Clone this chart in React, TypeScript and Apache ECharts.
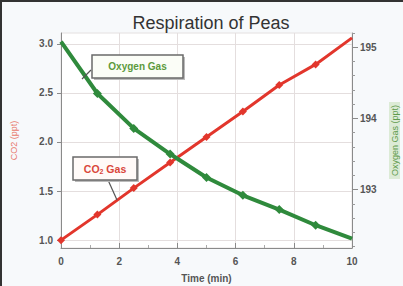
import React, { useEffect, useRef } from "react";
import * as echarts from "echarts";

const times = [0, 1.25, 2.5, 3.75, 5, 6.25, 7.5, 8.75, 10];
const co2 = [1.0, 1.26, 1.53, 1.79, 2.05, 2.31, 2.58, 2.79, 3.06];
const oxygen = [195.08, 194.35, 193.86, 193.5, 193.17, 192.92, 192.72, 192.5, 192.31];
const co2Ticks = [1.0, 1.5, 2.0, 2.5, 3.0];
const oxyTicks = [193, 194, 195];
const oxyMinorTicks = [192.2, 192.4, 192.6, 192.8, 193.2, 193.4, 193.6, 193.8, 194.2, 194.4, 194.6, 194.8, 195.2];

const RED = "#e2362c";
const GREEN = "#2f8a3c";
const FONT = "Liberation Sans, Arial, sans-serif";

export default function App() {
  const ref = useRef<HTMLDivElement>(null);
  useEffect(() => {
    if (!ref.current) return;
    const chart = echarts.init(ref.current, null, { renderer: "svg" });
    const co2Data = times.map((t, i) => ({
      value: [t, co2[i]],
      symbolSize: i === times.length - 1 ? 0 : 8,
    }));
    const oxyData = times.map((t, i) => ({
      value: [t, oxygen[i]],
      symbolSize: i === 0 || i === times.length - 1 ? 0 : 9,
    }));
    const tickLabel = { color: "#555", fontSize: 10, fontWeight: "bold" as const, fontFamily: FONT };
    chart.setOption({
      animation: false,
      backgroundColor: "#f7f9fb",
      title: {
        text: "Respiration of Peas",
        left: 206,
        textAlign: "center",
        top: 9,
        textStyle: { color: "#333", fontSize: 18, fontWeight: "normal", fontFamily: FONT },
      },
      grid: {
        left: 61, right: 51, top: 33, bottom: 38,
        containLabel: false,
        outerBoundsMode: "none",
        show: true, backgroundColor: "#ffffff", borderColor: "#e4e0e0", borderWidth: 1,
      },
      xAxis: {
        type: "value",
        min: 0,
        max: 10,
        interval: 2,
        name: "Time (min)",
        nameLocation: "middle",
        nameGap: 25,
        nameTextStyle: { color: "#555", fontSize: 10, fontWeight: "bold", fontFamily: FONT },
        axisLine: { show: true, lineStyle: { color: "#8a8a8a", width: 1 } },
        axisTick: { show: true, inside: true, length: 5, lineStyle: { color: "#8a8a8a" } },
        minorTick: { show: true, splitNumber: 2, length: 3, lineStyle: { color: "#aaa" } },
        axisLabel: { ...tickLabel, margin: 8 },
        splitLine: { show: true, lineStyle: { color: "#e4dede", width: 1 } },
      },
      yAxis: [
        {
          type: "value",
          position: "left",
          min: 0.92,
          max: 3.11,
          name: "CO2 (ppt)",
          nameLocation: "middle",
          nameGap: 43,
          nameTextStyle: { color: "#e8786c", fontSize: 9, fontFamily: FONT },
          axisLine: { show: true, lineStyle: { color: "#8a8a8a", width: 1 } },
          axisTick: { show: true, length: 4, customValues: co2Ticks, lineStyle: { color: "#8a8a8a" } },
          axisLabel: { ...tickLabel, margin: 8, customValues: co2Ticks, formatter: (v: number) => v.toFixed(1) },
          splitLine: { show: true, lineStyle: { color: "#e4dede", width: 1 } },
        },
        {
          type: "value",
          position: "right",
          min: 192.18,
          max: 195.2,
          name: "Oxygen Gas (ppt)",
          nameLocation: "middle",
          nameGap: 37,
          nameTextStyle: { color: "#5e9a4c", fontSize: 9, fontFamily: FONT, backgroundColor: "#dcebd6", padding: [1, 3] },
          axisLine: { show: true, lineStyle: { color: "#8a8a8a", width: 1 } },
          axisTick: { show: true, length: 6, customValues: oxyTicks, lineStyle: { color: "#8a8a8a" } },
          axisLabel: { ...tickLabel, margin: 8, customValues: oxyTicks },
          splitLine: { show: false },
        },
        {
          type: "value",
          position: "right",
          min: 192.18,
          max: 195.2,
          axisLine: { show: false },
          axisTick: { show: true, length: 3, customValues: oxyMinorTicks, lineStyle: { color: "#9a9a9a" } },
          axisLabel: { show: false },
          splitLine: { show: false },
        },
      ],
      series: [
        {
          name: "Oxygen Gas",
          type: "line",
          yAxisIndex: 1,
          data: oxyData,
          symbol: "diamond",
          lineStyle: { color: GREEN, width: 4 },
          itemStyle: { color: GREEN },
          z: 3,
        },
        {
          name: "CO2 Gas",
          type: "line",
          yAxisIndex: 0,
          data: co2Data,
          symbol: "diamond",
          lineStyle: { color: RED, width: 3 },
          itemStyle: { color: RED },
          z: 2,
        },
      ],
      graphic: [
        { type: "rect", left: 0, top: 0, shape: { width: 403, height: 2 }, style: { fill: "#333" }, z: 100, silent: true },
        { type: "rect", left: 0, top: 0, shape: { width: 2, height: 286 }, style: { fill: "#333" }, z: 100, silent: true },
        { type: "line", shape: { x1: 91, y1: 70, x2: 82, y2: 79 }, style: { stroke: "#555", lineWidth: 1.2 }, z: 50 },
        { type: "rect", shape: { x: 94, y: 57, width: 91, height: 23 }, style: { fill: "#bbb" }, z: 50 },
        { type: "rect", shape: { x: 92, y: 55, width: 91, height: 23 }, style: { fill: "#fbfdf7", stroke: "#6a6a6a", lineWidth: 1.5 }, z: 51 },
        {
          type: "text",
          x: 137.5,
          y: 66.5,
          style: { text: "Oxygen Gas", fill: "#5c9a3c", font: "bold 10px Liberation Sans, Arial, sans-serif", align: "center", verticalAlign: "middle" },
          z: 52,
        },
        { type: "line", shape: { x1: 108, y1: 180, x2: 117, y2: 200 }, style: { stroke: "#555", lineWidth: 1.2 }, z: 50 },
        { type: "rect", shape: { x: 75, y: 159, width: 64, height: 23 }, style: { fill: "#bbb" }, z: 50 },
        { type: "rect", shape: { x: 73, y: 157, width: 64, height: 23 }, style: { fill: "#fffaf8", stroke: "#6a6a6a", lineWidth: 1.5 }, z: 51 },
        {
          type: "text",
          x: 105,
          y: 168.5,
          style: {
            text: "{a|CO}{s|2}{a| Gas}",
            align: "center",
            verticalAlign: "middle",
            rich: {
              a: { fill: "#d9463a", fontSize: 10.5, fontWeight: "bold", fontFamily: FONT },
              s: { fill: "#d9463a", fontSize: 7, fontWeight: "bold", fontFamily: FONT, padding: [6, 0, 0, 0] },
            },
          },
          z: 52,
        },
      ],
    });
    return () => chart.dispose();
  }, []);
  return <div ref={ref} style={{ position: "fixed", left: 0, top: 0, width: 403, height: 286 }} />;
}
